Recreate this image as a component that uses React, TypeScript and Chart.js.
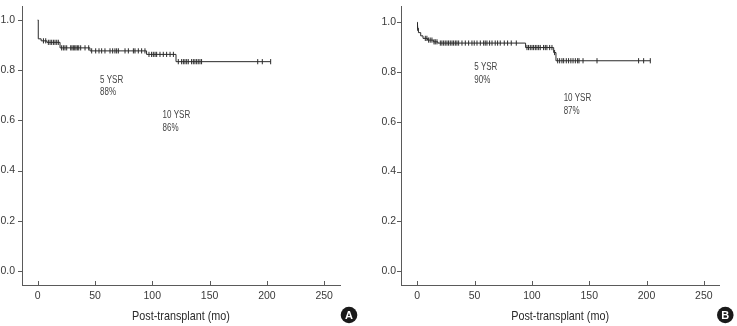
import React, { useEffect, useRef } from "react";
import { Chart, registerables } from "chart.js";
Chart.register(...registerables);

const FONT = "'Liberation Sans', Arial, Helvetica, sans-serif";
const TEXT = "#3a3a3a";
const AXIS = "#5a5a5a";
const CURVE = "#2a2a2a";

const X_TICK_STEP = 50;
const Y_TICK_STEP = 0.2;
const X_TITLE = "Post-transplant (mo)";

// ---- Panel A ----
const A_TIMES = [0, 0.5, 3, 8, 19.5, 45.6, 95, 120.7];
const A_SURV = [1.0, 0.925, 0.917, 0.911, 0.889, 0.877, 0.863, 0.834];
const A_END = 203.3;
const A_CENSOR = [
  5, 7, 9.3, 10.8, 12.2, 13.7, 15.1, 16.6, 18,
  20.9, 22.4, 23.8, 25.3, 28.8, 29.9, 31.1, 32.3, 33.4, 34.6, 35.8, 37.5, 41.3, 44.5,
  47.1, 50.6, 53.5, 55.8, 58.7, 63.1, 65.4, 67.4, 68.9, 70.4, 76.2, 79.1, 83.5, 84.9, 87.8, 90.7, 93.6,
  97.1, 99.4, 100.9, 102.4, 103.8, 106.7, 109.6, 112.5, 115.5, 118.4,
  122.7, 125.6, 127.1, 128.5, 130, 131.4, 134.3, 135.8, 137.2, 138.7, 140.1, 141.6, 143,
  192, 196, 203.3,
];
const A_NOTES = [
  { x: 54.4, y: 0.761, lines: ["5 YSR", "88%"] },
  { x: 109, y: 0.619, lines: ["10 YSR", "86%"] },
];

// ---- Panel B ----
const B_TIMES = [0, 0.2, 1, 3, 5, 9, 14, 18, 94.5, 119, 121];
const B_SURV = [1.0, 0.976, 0.958, 0.945, 0.935, 0.928, 0.921, 0.916, 0.898, 0.878, 0.845];
const B_END = 203.3;
const B_CENSOR = [
  0.3, 7, 8.4, 9.9, 11.3, 12.8, 14.6, 15.7, 17.2,
  20.1, 21.5, 23, 24.4, 25.9, 27.3, 28.8, 30.3, 31.7, 33.2, 34.6, 36.1, 39, 41.9, 44.8, 47.7, 49.7,
  52.1, 55, 57.9, 59.3, 60.8, 63.1, 65.2, 68, 70.1, 72.4, 75.9, 78.8, 82, 86.4,
  95.7, 97.1, 98.6, 100.1, 101.5, 103, 104.4, 105.9, 107.3, 110.2, 111.7, 113.1, 115.5, 117.5,
  119.8,
  122.5, 124.2, 126.2, 127.7, 130, 132, 134, 135.9, 137.9, 139.9, 141.1, 144.6, 156.8,
  193.1, 197.5, 203.3,
];
const B_NOTES = [
  { x: 49.7, y: 0.818, lines: ["5 YSR", "90%"] },
  { x: 127.7, y: 0.695, lines: ["10 YSR", "87%"] },
];

function survAt(times: number[], surv: number[], t: number) {
  let s = surv[0];
  for (let i = 0; i < times.length; i++) if (times[i] <= t) s = surv[i];
  return s;
}

type PanelDef = {
  times: number[]; surv: number[]; end: number; censor: number[];
  notes: { x: number; y: number; lines: string[] }[];
  letter: string;
  width: number; height: number;
  yAxisWidth: number; padRight: number; padTop: number; xAxisHeight: number;
  xMin: number; xMax: number; yMin: number; yMax: number;
  yLabelPad: number; yTickLen: number; letterX: number; letterY: number; titleY: number;
};

const H = 326;

const PANEL_A: PanelDef = {
  times: A_TIMES, surv: A_SURV, end: A_END, censor: A_CENSOR, notes: A_NOTES, letter: "A",
  width: 368, height: H, yAxisWidth: 22, padRight: 28, padTop: 6, xAxisHeight: 41,
  xMin: -13.7, xMax: 263.8, yMin: -0.0558, yMax: 1.0558, yLabelPad: 7, yTickLen: 4,
  letterX: 349, letterY: 315, titleY: 316,
};

const PANEL_B: PanelDef = {
  times: B_TIMES, surv: B_SURV, end: B_END, censor: B_CENSOR, notes: B_NOTES, letter: "B",
  width: 369, height: H, yAxisWidth: 33, padRight: 17.7, padTop: 6, xAxisHeight: 41,
  xMin: -14.2, xMax: 263.5, yMin: -0.056, yMax: 1.065, yLabelPad: 5, yTickLen: 4,
  letterX: 357.3, letterY: 315, titleY: 316,
};

function condensedText(ctx: any, text: string, x: number, y: number, sx: number, align: string) {
  ctx.save();
  ctx.translate(x, y);
  ctx.scale(sx, 1);
  ctx.textAlign = align;
  ctx.fillText(text, 0, 0);
  ctx.restore();
}

function KMPanel({ p, left }: { p: PanelDef; left: number }) {
  const ref = useRef<HTMLCanvasElement | null>(null);
  useEffect(() => {
    if (!ref.current) return;
    const curve = p.times.map((t, i) => ({ x: t, y: p.surv[i] }));
    curve.push({ x: p.end, y: p.surv[p.surv.length - 1] });
    const cens = p.censor.map((t) => ({ x: t, y: survAt(p.times, p.surv, t) }));

    const overlay = {
      id: "overlay",
      afterDraw(chart: any) {
        const ctx = chart.ctx;
        const xs = chart.scales.x;
        const ys = chart.scales.y;
        const area = chart.chartArea;
        ctx.save();
        ctx.strokeStyle = AXIS;
        ctx.lineWidth = 1;
        ctx.beginPath();
        ys.ticks.forEach((t: any) => {
          const y = Math.round(ys.getPixelForValue(t.value)) + 0.5;
          ctx.moveTo(area.left - p.yTickLen, y);
          ctx.lineTo(area.left, y);
        });
        xs.ticks.forEach((t: any) => {
          const x = Math.round(xs.getPixelForValue(t.value)) + 0.5;
          ctx.moveTo(x, area.bottom);
          ctx.lineTo(x, area.bottom - 4);
        });
        ctx.stroke();

        // axis title (condensed)
        ctx.fillStyle = "#2a2a2a";
        ctx.font = `13.5px ${FONT}`;
        ctx.textBaseline = "middle";
        condensedText(ctx, X_TITLE, (area.left + area.right) / 2, p.titleY, 0.8, "center");

        // annotations
        ctx.fillStyle = "#444444";
        ctx.font = `10px ${FONT}`;
        ctx.textBaseline = "middle";
        p.notes.forEach((n) => {
          const x = xs.getPixelForValue(n.x);
          const y = ys.getPixelForValue(n.y);
          n.lines.forEach((ln, i) => condensedText(ctx, ln, x, y + i * 12.7, 0.8, "left"));
        });

        // panel letter
        ctx.fillStyle = "#1a1a1a";
        ctx.beginPath();
        ctx.arc(p.letterX, p.letterY, 8.3, 0, Math.PI * 2);
        ctx.fill();
        ctx.fillStyle = "#ffffff";
        ctx.font = `bold 11px ${FONT}`;
        ctx.textAlign = "center";
        ctx.textBaseline = "middle";
        ctx.fillText(p.letter, p.letterX, p.letterY + 0.5);
        ctx.restore();
      },
    };

    const chart = new Chart(ref.current, {
      type: "line",
      data: {
        datasets: [
          {
            data: curve,
            stepped: true,
            borderColor: CURVE,
            borderWidth: 1,
            pointRadius: 0,
            fill: false,
          },
          {
            data: cens,
            showLine: false,
            pointStyle: "line",
            pointRotation: 90,
            pointRadius: 2.6,
            pointBorderColor: CURVE,
            pointBorderWidth: 1,
            pointBackgroundColor: CURVE,
            borderColor: CURVE,
          },
        ],
      } as any,
      options: {
        animation: false,
        responsive: false,
        maintainAspectRatio: false,
        events: [],
        layout: { padding: { left: 0, right: p.padRight, top: p.padTop, bottom: 0 } },
        plugins: { legend: { display: false }, tooltip: { enabled: false } },
        scales: {
          x: {
            type: "linear",
            min: p.xMin,
            max: p.xMax,
            afterFit(s: any) {
              s.height = p.xAxisHeight;
              s.paddingLeft = 0;
              s.paddingRight = 0;
            },
            grid: { display: false, drawTicks: false },
            border: { display: true, color: AXIS, width: 1 },
            ticks: {
              stepSize: X_TICK_STEP,
              includeBounds: false,
              padding: 5,
              color: TEXT,
              font: { family: FONT, size: 10.5 },
              maxRotation: 0,
              callback: (v: any) => String(Math.round(Number(v))),
            },
          },
          y: {
            type: "linear",
            min: p.yMin,
            max: p.yMax,
            afterFit(s: any) {
              s.width = p.yAxisWidth;
              s.paddingTop = 0;
              s.paddingBottom = 0;
            },
            grid: { display: false, drawTicks: false },
            border: { display: true, color: AXIS, width: 1 },
            ticks: {
              stepSize: Y_TICK_STEP,
              includeBounds: false,
              padding: p.yLabelPad,
              color: TEXT,
              font: { family: FONT, size: 10.5 },
              callback: (v: any) => Number(v).toFixed(1),
            },
          },
        },
      } as any,
      plugins: [overlay],
    });
    return () => chart.destroy();
  }, [p]);

  return (
    <div style={{ position: "absolute", left, top: 0, width: p.width, height: p.height }}>
      <canvas ref={ref} width={p.width} height={p.height} style={{ display: "block" }} />
    </div>
  );
}

export default function App() {
  return (
    <div style={{ position: "absolute", left: 0, top: 0, width: 737, height: 326, background: "#fff" }}>
      <KMPanel p={PANEL_A} left={0} />
      <KMPanel p={PANEL_B} left={368} />
    </div>
  );
}
